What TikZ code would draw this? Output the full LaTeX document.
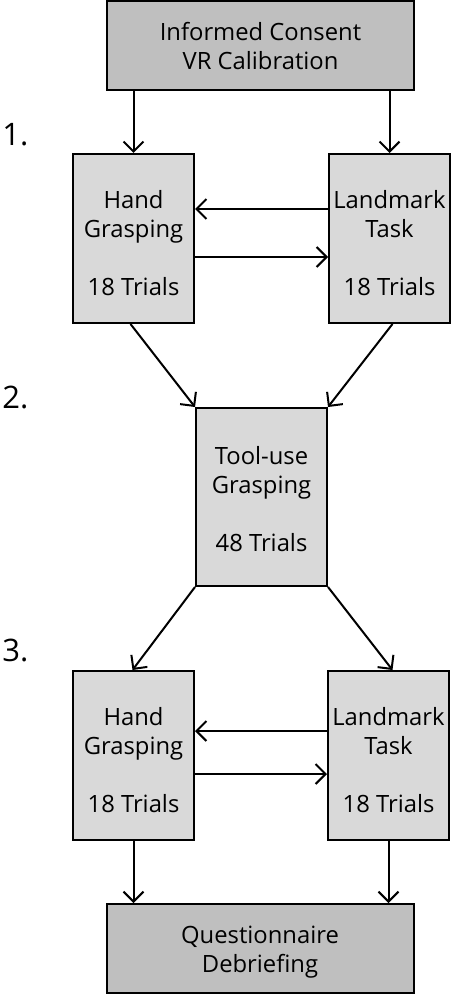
\documentclass[tikz,border=0pt]{standalone}
\usepackage{fontspec}
\setmainfont{Open Sans}
\usetikzlibrary{arrows.meta,calc}
\definecolor{darkbox}{RGB}{191,191,191}
\definecolor{lightbox}{RGB}{217,217,217}
\begin{document}
\begin{tikzpicture}[x=0.5pt,y=-0.5pt,
  box/.style={draw=black, line width=1pt, inner sep=0pt},
  bigbox/.style={box, fill=darkbox, minimum width=153.5pt, minimum height=44.5pt},
  smallbox/.style={box, fill=lightbox, minimum width=60.5pt, minimum height=84.5pt},
  toolbox/.style={box, fill=lightbox, minimum width=65.5pt, minimum height=89pt},
  txt/.style={inner sep=0pt, align=center, anchor=base, font=\fontsize{11.9pt}{14.5pt}\selectfont},
  lbl/.style={inner sep=0pt, anchor=base west, font=\fontsize{15.5pt}{18pt}\selectfont},
  conn/.style={line width=1pt, -{Straight Barb[length=5pt,width=10pt,line width=1pt]}}]
\useasboundingbox (0,0) rectangle (451,994);
% boxes
\node[bigbox] (top) at (260.5,45.5) {};
\node[smallbox] (h1) at (133.5,238.5) {};
\node[smallbox] (l1) at (389.5,238.5) {};
\node[toolbox] (tool) at (261.5,497) {};
\node[smallbox] (h2) at (133.5,755.5) {};
\node[smallbox] (l2) at (388.5,755.5) {};
\node[bigbox] (bot) at (260,948.5) {};
% texts (anchor base = baseline of last line)
\node[txt] (ttop) at (260.5,69.5) {Informed Consent\\VR Calibration};
\node[txt] (th1) at (133.5,295.5) {Hand\\Grasping\\[14.5pt]18 Trials};
\node[txt] (tl1) at (389.5,295.5) {Landmark\\Task\\[14.5pt]18 Trials};
\node[txt] (ttool) at (261.5,551.5) {Tool-use\\Grasping\\[14.5pt]48 Trials};
\node[txt] (th2) at (133.5,812.5) {Hand\\Grasping\\[14.5pt]18 Trials};
\node[txt] (tl2) at (388.5,812.5) {Landmark\\Task\\[14.5pt]18 Trials};
\node[txt] (tbot) at (260,972.5) {Questionnaire\\Debriefing};
% step labels
\node[lbl] (n1) at (2,146) {1.};
\node[lbl] (n2) at (2,408.5) {2.};
\node[lbl] (n3) at (2,661.5) {3.};
% connectors
\draw[conn] (h1.north |- top.south) -- (h1.north);
\draw[conn] (l1.north |- top.south) -- (l1.north);
\draw[conn] ($(l1.west)+(0,-29.5)$) -- ($(h1.east)+(0,-29.5)$);
\draw[conn] ($(h1.east)+(0,18.5)$) -- ($(l1.west)+(0,18.5)$);
\draw[conn] ($(h1.south)+(-3,0)$) -- (tool.north west);
\draw[conn] ($(l1.south)+(3,0)$) -- (tool.north east);
\draw[conn] (tool.south west) -- ($(h2.north)+(-1,0)$);
\draw[conn] (tool.south east) -- ($(l2.north)+(4,0)$);
\draw[conn] ($(l2.west)+(0,-24.5)$) -- ($(h2.east)+(0,-24.5)$);
\draw[conn] ($(h2.east)+(0,18.5)$) -- ($(l2.west)+(0,18.5)$);
\draw[conn] (h2.south) -- (h2.south |- bot.north);
\draw[conn] (l2.south) -- (l2.south |- bot.north);
\end{tikzpicture}
\end{document}
